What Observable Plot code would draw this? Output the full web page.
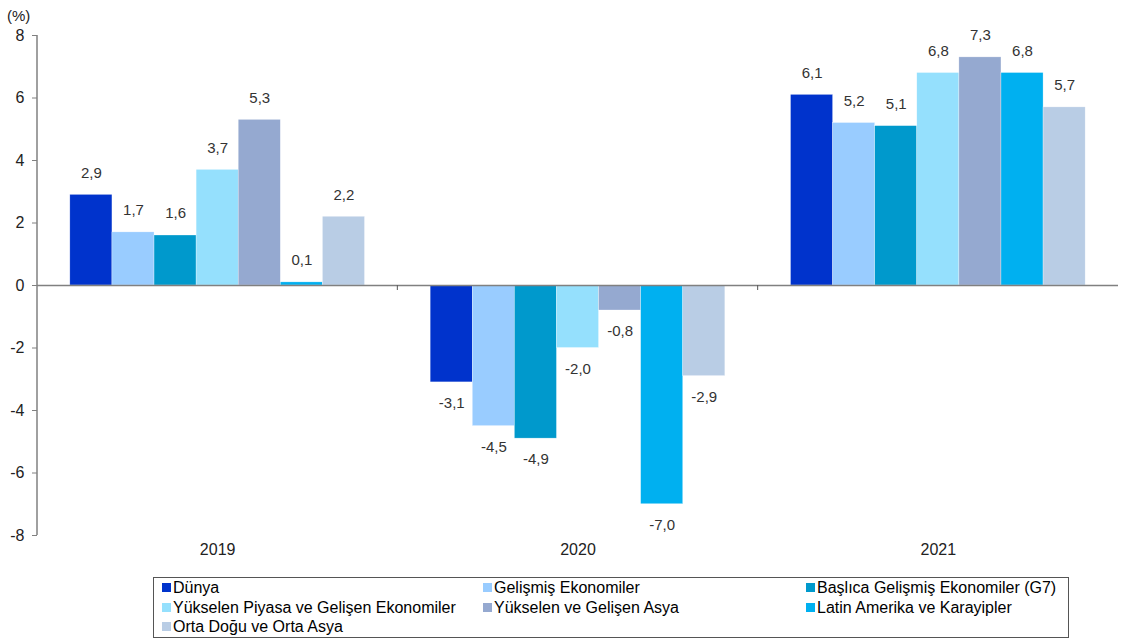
<!DOCTYPE html>
<html>
<head>
<meta charset="utf-8">
<script src="https://cdn.jsdelivr.net/npm/d3@7"></script>
<script src="https://cdn.jsdelivr.net/npm/@observablehq/plot@0.6"></script>
<style>
  body { margin: 0; background: #fff; font-family: "Liberation Sans", Arial, sans-serif; }
  #legend {
    margin: 7px 0 0 153px; width: 916px; border: 1.5px solid #555; box-sizing: border-box;
    display: grid; grid-template-columns: 321px 323px 1fr; padding: 0 0 0 8px;
    font-size: 16px; color: #000; line-height: 19.5px;
  }
  .item { display: flex; align-items: center; white-space: nowrap; }
  .sw { width: 9px; height: 9px; margin-right: 2px; flex: none; }
</style>
</head>
<body>
<div id="chart"></div>
<div id="legend"></div>
<script>
const years = ["2019", "2020", "2021"];
const series = [
  "Dünya",
  "Gelişmiş Ekonomiler",
  "Başlıca Gelişmiş Ekonomiler (G7)",
  "Yükselen Piyasa ve Gelişen Ekonomiler",
  "Yükselen ve Gelişen Asya",
  "Latin Amerika ve Karayipler",
  "Orta Doğu ve Orta Asya"
];
const colors = ["#0033cc", "#99ccff", "#0099cc", "#95e0fd", "#95a9d0", "#00b0f0", "#b9cde5"];
const v2019 = [2.9, 1.7, 1.6, 3.7, 5.3, 0.1, 2.2];
const v2020 = [-3.1, -4.5, -4.9, -2.0, -0.8, -7.0, -2.9];
const v2021 = [6.1, 5.2, 5.1, 6.8, 7.3, 6.8, 5.7];
const yTicks = [-8, -6, -4, -2, 0, 2, 4, 6, 8];

const valuesByYear = [v2019, v2020, v2021];
const data = [];
years.forEach((yr, i) => series.forEach((s, j) => data.push({year: yr, series: s, value: valuesByYear[i][j]})));
const fmt = v => v.toFixed(1).replace(".", ",");

const chart = Plot.plot({
  width: 1122,
  height: 570,
  marginTop: 35,
  marginBottom: 35,
  marginLeft: 37,
  marginRight: 4,
  style: {fontFamily: "Liberation Sans, Arial, sans-serif", fontSize: "16px", color: "#222"},
  fx: {domain: years, padding: 0, label: null, round: false},
  x: {domain: series, paddingInner: 0, paddingOuter: 0.78, round: false, axis: null},
  y: {domain: [-8, 8], ticks: yTicks, label: null},
  color: {domain: series, range: colors},
  marks: [
    Plot.barY(data, {fx: "year", x: "series", y: "value", fill: "series", stroke: "#fff", strokeWidth: 0.5, strokeOpacity: 0.6}),
    Plot.ruleY([0], {stroke: "#808080", strokeWidth: 1.5}),
    Plot.text(data.filter(d => d.value >= 0), {fx: "year", x: "series", y: "value", text: d => fmt(d.value), dy: -22, fill: "#333", fontSize: 15}),
    Plot.text(data.filter(d => d.value < 0), {fx: "year", x: "series", y: "value", text: d => fmt(d.value), dy: 21, fill: "#333", fontSize: 15}),
    Plot.axisY({ticks: yTicks, tickSize: 5, tickPadding: 8, stroke: "#808080", label: null, fontSize: 16, tickFormat: d => String(d)}),
    Plot.axisFx({anchor: "bottom", tickSize: 0, tickPadding: 8, label: null, fontSize: 16})
  ]
});
document.getElementById("chart").appendChild(chart);

// extras drawn with the chart's own scales
const fxScale = chart.scale("fx");
const yScale = chart.scale("y");
const svg = d3.select(chart);
const y0 = yScale.apply(0);
const yTop = yScale.apply(8), yBot = yScale.apply(-8);
const xLeft = fxScale.apply(years[0]);
svg.append("line").attr("x1", xLeft).attr("x2", xLeft).attr("y1", yTop).attr("y2", yBot)
  .attr("stroke", "#808080").attr("stroke-width", 1.5);
years.slice(1).forEach(yr => {
  const x = fxScale.apply(yr);
  svg.append("line").attr("x1", x).attr("x2", x).attr("y1", y0).attr("y2", y0 + 5)
    .attr("stroke", "#555").attr("stroke-width", 1);
});
svg.append("text").attr("x", 7).attr("y", 21).attr("font-size", 15)
  .attr("text-anchor", "start").attr("fill", "#222").text("(%)");

const legend = d3.select("#legend");
series.forEach((s, i) => {
  const item = legend.append("div").attr("class", "item");
  item.append("span").attr("class", "sw").style("background", colors[i]);
  item.append("span").text(s);
});
</script>
</body>
</html>
